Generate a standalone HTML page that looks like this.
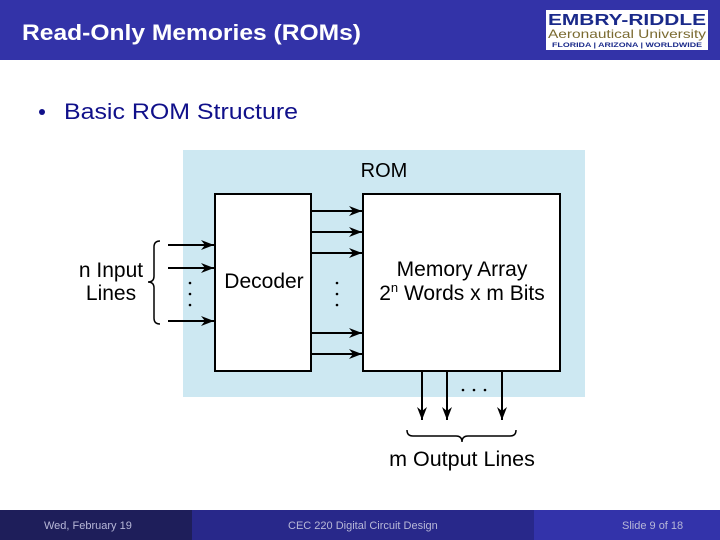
<!DOCTYPE html>
<html><head><style>body{margin:0}svg{display:block}</style></head><body>
<svg width="720" height="540" viewBox="0 0 720 540" xmlns="http://www.w3.org/2000/svg" font-family="Liberation Sans, sans-serif">
<defs><marker id="a" markerWidth="14" markerHeight="10" refX="13" refY="5" orient="auto" markerUnits="userSpaceOnUse"><path d="M0,0 L13,5 L0,10 L4,5 Z" fill="#000"/></marker></defs>
<rect width="720" height="540" fill="#fff"/>
<rect width="720" height="60" fill="#3333a8"/>
<text x="22" y="40" fill="#fff" font-size="22" font-weight="bold" textLength="339" lengthAdjust="spacingAndGlyphs">Read-Only Memories (ROMs)</text>
<rect x="546" y="10" width="162" height="40" fill="#fff"/>
<text x="548" y="25" fill="#1a2a8a" font-size="16" font-weight="bold" textLength="158" lengthAdjust="spacingAndGlyphs">EMBRY-RIDDLE</text>
<text x="548" y="38" fill="#7a6a30" font-size="12" textLength="158" lengthAdjust="spacingAndGlyphs">Aeronautical University</text>
<text x="552" y="47" fill="#1a2a8a" font-size="6" font-weight="bold" textLength="150" lengthAdjust="spacingAndGlyphs">FLORIDA | ARIZONA | WORLDWIDE</text>
<circle cx="42" cy="112" r="3" fill="#10108a"/>
<text x="64" y="119" fill="#10108a" font-size="22" textLength="234" lengthAdjust="spacingAndGlyphs">Basic ROM Structure</text>
<rect x="183" y="150" width="402" height="247" fill="#cde8f2"/>
<text x="384" y="177" font-size="20" text-anchor="middle">ROM</text>
<rect x="215" y="194" width="96" height="177" fill="#fff" stroke="#000" stroke-width="2"/>
<rect x="363" y="194" width="197" height="177" fill="#fff" stroke="#000" stroke-width="2"/>
<text x="264" y="288" font-size="21" text-anchor="middle">Decoder</text>
<text x="462" y="276" font-size="21" text-anchor="middle">Memory Array</text>
<text x="462" y="300" font-size="21" text-anchor="middle">2<tspan font-size="13" dy="-8">n</tspan><tspan dy="8"> Words x m Bits</tspan></text>
<g stroke="#000" stroke-width="2" marker-end="url(#a)">
<line x1="168" y1="245" x2="214" y2="245"/><line x1="168" y1="268" x2="214" y2="268"/><line x1="168" y1="321" x2="214" y2="321"/>
<line x1="312" y1="211" x2="362" y2="211"/><line x1="312" y1="232" x2="362" y2="232"/><line x1="312" y1="253" x2="362" y2="253"/>
<line x1="312" y1="333" x2="362" y2="333"/><line x1="312" y1="354" x2="362" y2="354"/>
<line x1="422" y1="372" x2="422" y2="420"/><line x1="447" y1="372" x2="447" y2="420"/><line x1="502" y1="372" x2="502" y2="420"/>
</g>
<g fill="#000"><circle cx="190" cy="283" r="1.3"/><circle cx="190" cy="294" r="1.3"/><circle cx="190" cy="305" r="1.3"/>
<circle cx="337" cy="283" r="1.3"/><circle cx="337" cy="294" r="1.3"/><circle cx="337" cy="305" r="1.3"/>
<circle cx="463" cy="390" r="1.3"/><circle cx="474" cy="390" r="1.3"/><circle cx="485" cy="390" r="1.3"/></g>
<path d="M160,241 Q154,241 154,247 L154,276 Q154,282 148,282 Q154,282 154,288 L154,318 Q154,324 160,324" fill="none" stroke="#000" stroke-width="1.5"/>
<text x="111" y="277" font-size="21" text-anchor="middle">n Input</text>
<text x="111" y="300" font-size="21" text-anchor="middle">Lines</text>
<path d="M407,430 Q407,436 413,436 L456,436 Q462,436 462,442 Q462,436 468,436 L510,436 Q516,436 516,430" fill="none" stroke="#000" stroke-width="1.5"/>
<text x="462" y="466" font-size="21.5" text-anchor="middle">m Output Lines</text>
<rect x="0" y="510" width="192" height="30" fill="#1e1e5a"/>
<rect x="192" y="510" width="342" height="30" fill="#28288a"/>
<rect x="534" y="510" width="186" height="30" fill="#3333aa"/>
<g fill="#b8b8d8" font-size="11"><text x="44" y="529">Wed, February 19</text><text x="288" y="529">CEC 220 Digital Circuit Design</text><text x="622" y="529">Slide 9 of 18</text></g>
</svg>
</body></html>
